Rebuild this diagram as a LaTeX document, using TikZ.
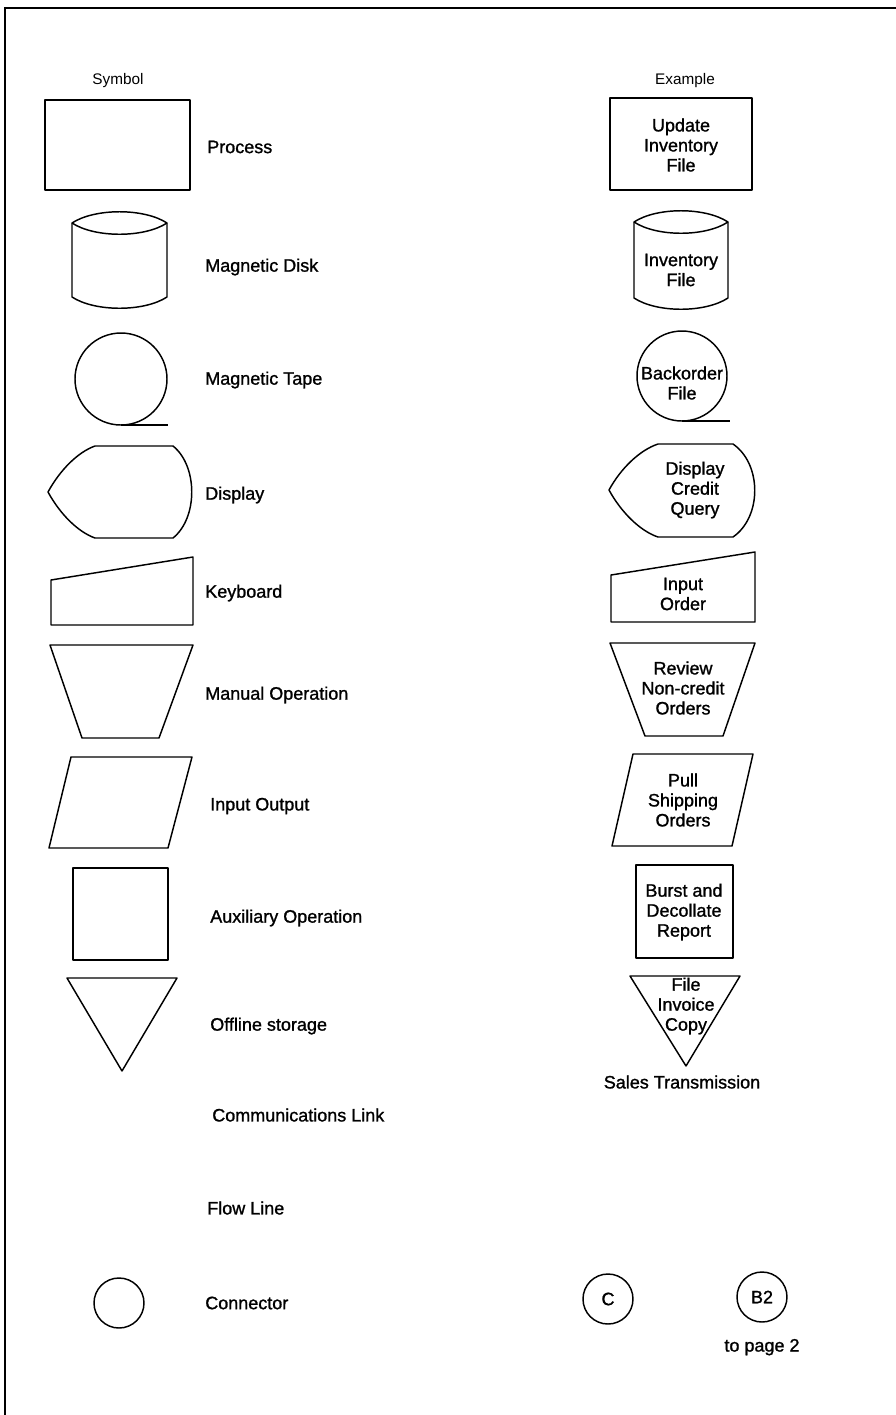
\documentclass[tikz,border=0pt]{standalone}
\usepackage{fontspec}
\setmainfont{Liberation Sans}
\newfontfamily\heavyfont[FakeBold=1.2]{Liberation Sans}
\usetikzlibrary{positioning}
\tikzset{
    x=0.75pt, y=-0.75pt, % one unit is one pixel of the page, y runs downwards
    shape line/.style={draw, line width=1.1pt, line join=round}, % outline of every symbol
    head text/.style={font=\fontsize{11.5}{13}\selectfont, inner sep=0pt}, % column titles
    label text/.style={font=\heavyfont\fontsize{13.5}{15}\selectfont, anchor=west, inner sep=0pt}, % name of a symbol
    example text/.style={font=\heavyfont\fontsize{13.5}{15}\selectfont, align=center, inner sep=0pt}, % text in an example
    conn/.style={shape line, circle, inner sep=0pt, minimum size=37.5pt, font=\heavyfont\fontsize{13.5}{15}\selectfont}, % connector with a label
}

\begin{document}
\begin{tikzpicture}
    \useasboundingbox (0,0) rectangle (896,1415);
    \draw[line width=2.2pt] (5,1415) -- (5,8) -- (896,8);

    \node[head text] (hsym) at (118,81) {Symbol};
    \node[head text] (hex) at (685,81) {Example};

    % symbols
    \draw[shape line] (45,100) rectangle (190,190);
    \draw[shape line] (72,223) .. controls (95,208) and (144,208) .. (167,223) -- (167,297)
        .. controls (144,312) and (95,312) .. (72,297) -- cycle;
    \draw[shape line] (72,223) .. controls (95,238) and (144,238) .. (167,223);
    \draw[shape line] (121,379) circle[radius=46];
    \draw[shape line] (121,425) -- (168,425);
    \draw[shape line] (48,492) .. controls (60,470) and (78,452) .. (95,446) -- (173,446)
        .. controls (198,466) and (198,518) .. (173,538) -- (95,538)
        .. controls (78,532) and (60,514) .. (48,492) -- cycle;
    \draw[shape line] (51,580) -- (193,557) -- (193,625) -- (51,625) -- cycle;
    \draw[shape line] (50,645) -- (193,645) -- (159,738) -- (82,738) -- cycle;
    \draw[shape line] (71,757) -- (192,757) -- (168,848) -- (49,848) -- cycle;
    \draw[shape line] (73,868) rectangle (168,960);
    \draw[shape line] (67,978) -- (177,978) -- (122,1071) -- cycle;
    \node[conn] (con) at (119,1303) {};

    \node[label text] (lproc) at (207,147) {Process};
    \node[label text] (ldisk) at (205,267) {Magnetic Disk};
    \node[label text] (ltape) at (205,380) {Magnetic Tape};
    \node[label text] (ldisp) at (205,495) {Display};
    \node[label text] (lkey) at (205,593) {Keyboard};
    \node[label text] (lman) at (205,695) {Manual Operation};
    \node[label text] (lio) at (210,806) {Input Output};
    \node[label text] (laux) at (210,918) {Auxiliary Operation};
    \node[label text] (loff) at (210,1026) {Offline storage};
    \node[label text] (lcom) at (212,1115) {Communications Link};
    \node[label text] (lflow) at (207,1208) {Flow Line};
    \node[label text] (lcon) at (205,1303) {Connector};

    % examples
    \draw[shape line] (610,98) rectangle (752,190);
    \draw[shape line] (634,222) .. controls (657,207) and (705,207) .. (728,222) -- (728,298)
        .. controls (705,313) and (657,313) .. (634,298) -- cycle;
    \draw[shape line] (634,222) .. controls (657,237) and (705,237) .. (728,222);
    \draw[shape line] (682,376) circle[radius=45];
    \draw[shape line] (682,421) -- (730,421);
    \draw[shape line] (609,490) .. controls (621,468) and (640,450) .. (658,444) -- (733,444)
        .. controls (762,464) and (762,517) .. (733,537) -- (658,537)
        .. controls (640,531) and (621,512) .. (609,490) -- cycle;
    \draw[shape line] (611,575) -- (755,552) -- (755,622) -- (611,622) -- cycle;
    \draw[shape line] (610,643) -- (755,643) -- (723,736) -- (645,736) -- cycle;
    \draw[shape line] (633,754) -- (753,754) -- (732,846) -- (612,846) -- cycle;
    \draw[shape line] (636,865) rectangle (733,958);
    \draw[shape line] (630,976) -- (740,976) -- (686,1066) -- cycle;

    \node[example text] (eproc) at (681,145) {Update\\Inventory\\File};
    \node[example text] (edisk) at (681,270) {Inventory\\File};
    \node[example text] (etape) at (682,383) {Backorder\\File};
    \node[example text] (edisp) at (695,490) {Display\\Credit\\Query};
    \node[example text] (ekey) at (683,594) {Input\\Order};
    \node[example text] (eman) at (683,688) {Review\\Non-credit\\Orders};
    \node[example text] (eio) at (683,800) {Pull\\Shipping\\Orders};
    \node[example text] (eaux) at (684,912) {Burst and\\Decollate\\Report};
    \node[example text] (eoff) at (686,1006) {File\\Invoice\\Copy};
    \node[example text] (ecom) at (682,1082) {Sales Transmission};
    \node[conn] (cc) at (608,1299) {C};
    \node[conn] (cb) at (762,1297) {B2};
    \node[example text, below=12pt of cb] (epage) {to page 2};
\end{tikzpicture}
\end{document}
